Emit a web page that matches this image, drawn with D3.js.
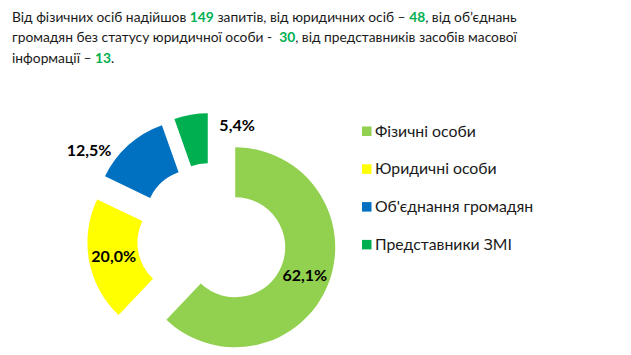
<!DOCTYPE html>
<html><head><meta charset="utf-8">
<script src="https://cdn.jsdelivr.net/npm/d3@7"></script>
<style>
html,body{margin:0;padding:0;background:#fff;}
svg{display:block;}
</style></head>
<body>
<script>
const categories = ["Фізичні особи", "Юридичні особи", "Об'єднання громадян", "Представники ЗМІ"];
const counts = [149, 48, 30, 13];
const percentLabels = ["62,1%", "20,0%", "12,5%", "5,4%"];
const colors = ["#92D050", "#FFFF00", "#0070C0", "#00B050"];
const titleLines = [
  [["Від фізичних осіб надійшов ", false], ["149", true], [" запитів, від юридичних осіб – ", false], ["48", true], [", від об’єднань", false]],
  [["громадян без статусу юридичної особи -  ", false], ["30", true], [", від представників засобів масової", false]],
  [["інформації – ", false], ["13", true], [".", false]]
];

const W = 631, H = 355;
const svg = d3.select("body").append("svg").attr("width", W).attr("height", H);
const font = "Lato, 'Liberation Sans', sans-serif";

// Title
const title = svg.append("text").attr("font-family", font).attr("font-size", 13.8).attr("fill", "#1a1a1a")
  .attr("xml:space", "preserve");
titleLines.forEach((line, i) => {
  line.forEach(([t, bold], j) => {
    const ts = title.append("tspan").text(t)
      .attr("font-weight", bold ? "bold" : "normal")
      .attr("fill", bold ? "#00B050" : "#1a1a1a")
      .style("white-space", "pre");
    if (j === 0) ts.attr("x", 12).attr("y", 21.7 + i * 20.7);
  });
});

// Donut
const cx = 212, cy = 238, R = 100, r = 50, explode = 25;
const pie = d3.pie().sort(null).value(d => d)(counts);
const arc = d3.arc().innerRadius(r).outerRadius(R);
const g = svg.append("g").attr("transform", `translate(${cx},${cy})`);
const offset = d => {
  const a = (d.startAngle + d.endAngle) / 2;
  return [Math.sin(a) * explode, -Math.cos(a) * explode];
};
const slices = g.selectAll("g.slice").data(pie).enter().append("g")
  .attr("transform", d => { const o = offset(d); return `translate(${o[0]},${o[1]})`; });
slices.append("path").attr("d", arc).attr("fill", (d, i) => colors[i]);

// label adjustments (outside labels for small slices)
const labelShift = [[0, 0], [0, 0], [-56, -13], [42, -14]];
slices.append("text")
  .attr("transform", (d, i) => { const c = arc.centroid(d); return `translate(${c[0] + labelShift[i][0]},${c[1] + labelShift[i][1]})`; })
  .attr("text-anchor", "middle").attr("dy", "0.35em")
  .attr("font-family", font).attr("font-weight", "bold").attr("font-size", 16).attr("fill", "#000")
  .text((d, i) => percentLabels[i]);

// Legend
const legend = svg.append("g").attr("transform", "translate(362,131)");
const li = legend.selectAll("g").data(categories).enter().append("g")
  .attr("transform", (d, i) => `translate(0,${i * 37.8})`);
li.append("rect").attr("x", 0).attr("y", -4.5).attr("width", 9.5).attr("height", 9.5).attr("fill", (d, i) => colors[i]);
li.append("text").attr("x", 13).attr("dy", "0.35em").attr("font-family", font).attr("font-size", 15.8)
  .attr("fill", "#1a1a1a").text(d => d);
</script>
</body></html>
